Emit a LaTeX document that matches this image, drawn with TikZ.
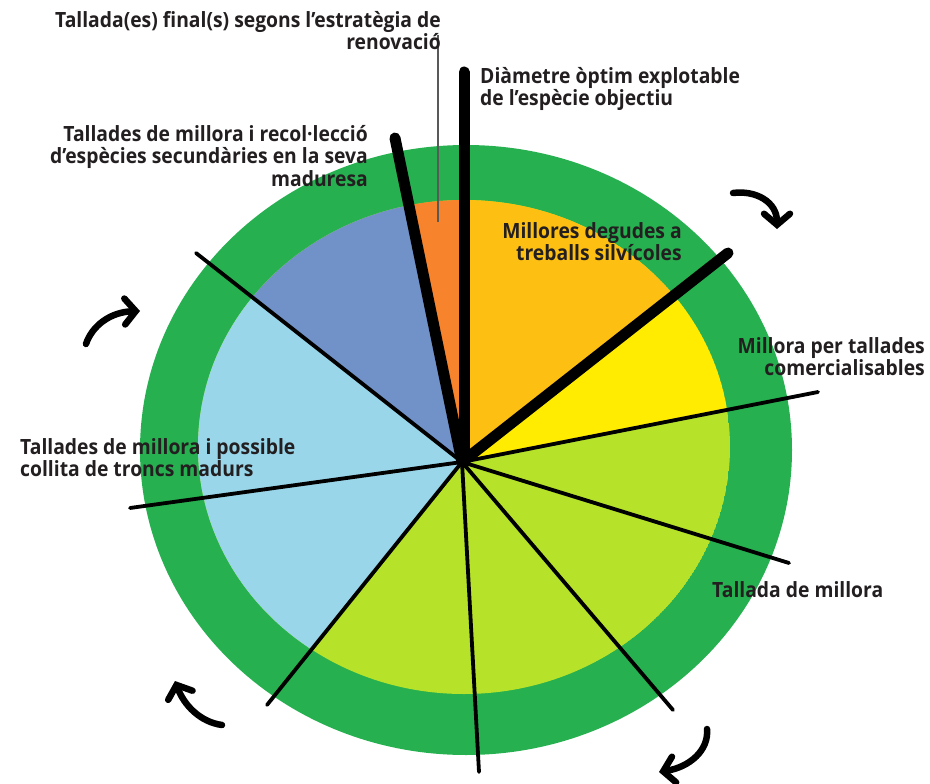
\documentclass[tikz,border=0pt]{standalone}
\usepackage{fontspec}
\setmainfont{Open Sans}[FakeStretch=0.92]
\usetikzlibrary{arrows.meta,calc}
\definecolor{ringgreen}{RGB}{38,176,80}
\definecolor{limegreen}{RGB}{182,226,42}
\definecolor{sunyellow}{RGB}{255,236,0}
\definecolor{gold}{RGB}{253,192,18}
\definecolor{orangec}{RGB}{247,131,45}
\definecolor{steelblue}{RGB}{112,146,200}
\definecolor{skyblue}{RGB}{153,214,234}
\definecolor{txt}{RGB}{35,31,32}
\tikzset{
  lbl/.style={inner sep=0pt, text=txt, font=\bfseries\fontsize{21}{22}\selectfont},
  thickspoke/.style={line width=11pt, line cap=round, black},
  thinspoke/.style={line width=3.8pt, line cap=round, black},
  turn/.style={line width=6.5pt, line cap=round, black, -{Straight Barb[length=11pt, width=26pt, line cap=round]}},
  wedge/.style={draw=none}
}
\begin{document}
\begin{tikzpicture}[x=1pt,y=-1pt]
\useasboundingbox (0,0) rectangle (930,784);
% outer ring
\fill[ringgreen] (466,450) ellipse [x radius=326pt, y radius=305pt];
\coordinate (hub) at (462,462);
\begin{scope}
  \clip (464,447) ellipse [x radius=266pt, y radius=247pt];
  \fill[limegreen] (464,447) ellipse [x radius=266pt, y radius=247pt];
  \fill[sunyellow] (hub) -- +(11.2:900pt) -- +(24:900pt) -- +(37.9:900pt) -- cycle;
  \fill[gold] (hub) -- +(37.9:900pt) -- +(64:900pt) -- +(90:900pt) -- cycle;
  \fill[orangec] (hub) -- +(90:900pt) -- +(101.3:900pt) -- cycle;
  \fill[steelblue] (hub) -- +(101.3:900pt) -- +(121:900pt) -- +(141.5:900pt) -- cycle;
  \fill[skyblue] (hub) -- +(141.5:900pt) -- +(186:900pt) -- +(231.4:900pt) -- cycle;
\end{scope}
% spoke end points
\coordinate (eV) at (464,72);
\coordinate (eUL) at (395,138);
\coordinate (eUR) at (728,253);
\coordinate (eR) at (818,392);
\coordinate (eLR) at (789,563);
\coordinate (eLRB) at (673,710);
\coordinate (eB) at (479,772);
\coordinate (eLL) at (267,705);
\coordinate (eL) at (130,508);
\coordinate (eULt) at (196,253);
\coordinate (leadTop) at (438,35);
\coordinate (leadBot) at (438,222);
% thin spokes
\foreach \e in {eR,eLR,eLRB,eB,eLL,eL,eULt}
  \draw[thinspoke] (hub) -- (\e);
% thick spokes
\draw[thickspoke] (hub) -- (eUL);
\draw[thickspoke] (464,462) -- (eV);
\draw[thickspoke] (hub) -- (eUR);
% leader
\draw[line width=1.6pt, black!65] (leadTop) -- (leadBot);
% labels
\node[lbl, anchor=base east] (l1a) at (441,28) {Tallada(es) final(s) segons l’estratègia de};
\node[lbl, anchor=base east] (l1b) at (441,50) {renovació};
\node[lbl, anchor=base west] (l2a) at (480,84) {Diàmetre òptim explotable};
\node[lbl, anchor=base west] (l2b) at (480,106) {de l’espècie objectiu};
\node[lbl, anchor=base east] (l3a) at (368,142) {Tallades de millora i recol·lecció};
\node[lbl, anchor=base east] (l3b) at (368,164) {d’espècies secundàries en la seva};
\node[lbl, anchor=base east] (l3c) at (368,186) {maduresa};
\node[lbl, anchor=base east] (l4a) at (682,238) {Millores degudes a};
\node[lbl, anchor=base east] (l4b) at (682,260) {treballs silvícoles};
\node[lbl, anchor=base east] (l5a) at (925,353) {Millora per tallades};
\node[lbl, anchor=base east] (l5b) at (925,375) {comercialisables};
\node[lbl, anchor=base west] (l6a) at (20,454) {Tallades de millora i possible};
\node[lbl, anchor=base west] (l6b) at (20,476) {collita de troncs madurs};
\node[lbl, anchor=base west] (l7) at (712,597) {Tallada de millora};
% rotation arrows
\coordinate (a1s) at (733,193); \coordinate (a1e) at (777,229);
\coordinate (a2s) at (86,344);  \coordinate (a2e) at (140,311);
\coordinate (a3s) at (222,725); \coordinate (a3e) at (175,681);
\coordinate (a4s) at (707,729); \coordinate (a4e) at (659,772);
\draw[turn] (a1s) .. controls (756,190) and (777,202) .. (a1e);
\draw[turn] (a2s) .. controls (92,326) and (110,312) .. (a2e);
\draw[turn] (a3s) .. controls (200,722) and (184,705) .. (a3e);
\draw[turn] (a4s) .. controls (709,750) and (690,767) .. (a4e);
\end{tikzpicture}
\end{document}
